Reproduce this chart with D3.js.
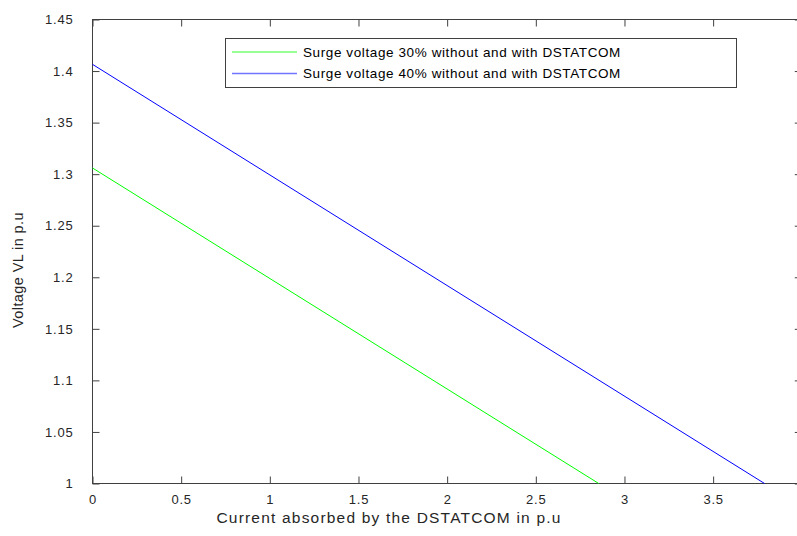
<!DOCTYPE html>
<html>
<head>
<meta charset="utf-8">
<script src="https://cdn.jsdelivr.net/npm/d3@7"></script>
<style>
  body { margin: 0; background: #fff; }
  svg { display: block; font-family: "Liberation Sans", Arial, sans-serif; }
  .tick text { font-size: 13px; letter-spacing: 0.8px; fill: #262626; }
</style>
</head>
<body>
<svg id="chart" width="797" height="536"></svg>
<script>
const xTicks = [0, 0.5, 1, 1.5, 2, 2.5, 3, 3.5, 4],
yTicks = [1, 1.05, 1.1, 1.15, 1.2, 1.25, 1.3, 1.35, 1.4, 1.45];

// current absorbed (p.u) and load voltage (p.u) for each surge case
const current30 = [0, 2.855],
voltage30 = [1.306, 1.0],
current40 = [0, 3.79],
voltage40 = [1.4065, 1.0];

const seriesNames = ["Surge voltage 30% without and with DSTATCOM", "Surge voltage 40% without and with DSTATCOM"],
seriesColors = ["#00ff00", "#0000ff"];

const plotLeft = 92.5, plotRight = 801.8, plotTop = 19.5, plotBottom = 483.5,
tickLen = 7, axisColor = "#404040";

let svg = d3.select("#chart");

let x = d3.scaleLinear().domain([0, 4]).range([plotLeft, plotRight]);
let y = d3.scaleLinear().domain([1, 1.45]).range([plotBottom, plotTop]);

// box + ticks (MATLAB style, ticks inside on all four sides)
function styleAxis(g) {
  g.select(".domain").remove();
  g.selectAll(".tick line").attr("stroke", axisColor);
}

svg.append("g")
  .attr("transform", `translate(0,${plotBottom})`)
  .call(d3.axisBottom(x).tickValues(xTicks).tickFormat(d3.format("")).tickSizeInner(-tickLen).tickSizeOuter(0))
  .call(styleAxis)
  .call(g => g.selectAll("text").attr("dy", "0.71em").attr("y", 11));

svg.append("g")
  .attr("transform", `translate(0,${plotTop})`)
  .call(d3.axisTop(x).tickValues(xTicks).tickFormat("").tickSizeInner(-tickLen).tickSizeOuter(0))
  .call(styleAxis);

svg.append("g")
  .attr("transform", `translate(${plotLeft},0)`)
  .call(d3.axisLeft(y).tickValues(yTicks).tickFormat(d3.format("")).tickSizeInner(-tickLen).tickSizeOuter(0))
  .call(styleAxis)
  .call(g => g.selectAll("text").attr("x", -19));

svg.append("g")
  .attr("transform", `translate(${plotRight},0)`)
  .call(d3.axisRight(y).tickValues(yTicks).tickFormat("").tickSizeInner(-tickLen).tickSizeOuter(0))
  .call(styleAxis);

svg.append("rect")
  .attr("x", plotLeft).attr("y", plotTop)
  .attr("width", plotRight - plotLeft).attr("height", plotBottom - plotTop)
  .attr("fill", "none").attr("stroke", axisColor).attr("stroke-width", 1);

// data lines
let line = d3.line().x(d => x(d[0])).y(d => y(d[1]));
let series = [d3.zip(current30, voltage30), d3.zip(current40, voltage40)];

svg.append("g").selectAll("path")
  .data(series)
  .join("path")
  .attr("d", line)
  .attr("fill", "none")
  .attr("stroke", (d, i) => seriesColors[i])
  .attr("stroke-width", 1);

// axis labels
svg.append("text")
  .attr("x", 389).attr("y", 523)
  .attr("text-anchor", "middle")
  .attr("font-size", 15.5).attr("letter-spacing", 1.2)
  .attr("fill", "#262626")
  .text("Current absorbed by the DSTATCOM in p.u");

svg.append("text")
  .attr("transform", "translate(23,270) rotate(-90)")
  .attr("text-anchor", "middle")
  .attr("font-size", 14.5).attr("letter-spacing", 0.4)
  .attr("fill", "#262626")
  .text("Voltage VL in p.u");

// legend
let legend = svg.append("g");
legend.append("rect")
  .attr("x", 225.5).attr("y", 38.5)
  .attr("width", 511).attr("height", 49)
  .attr("fill", "#fff").attr("stroke", axisColor);

let items = legend.selectAll(".item")
  .data(seriesNames)
  .join("g")
  .attr("class", "item")
  .attr("transform", (d, i) => `translate(0,${52 + i * 21.5})`);

items.append("line")
  .attr("x1", 232).attr("x2", 297)
  .attr("stroke", (d, i) => seriesColors[i])
  .attr("stroke-opacity", 0.55)
  .attr("stroke-width", 1.5);

items.append("text")
  .attr("x", 303).attr("dy", "0.35em")
  .attr("font-size", 13.5).attr("letter-spacing", 0.6)
  .attr("fill", "#000")
  .text(d => d);
</script>
</body>
</html>
